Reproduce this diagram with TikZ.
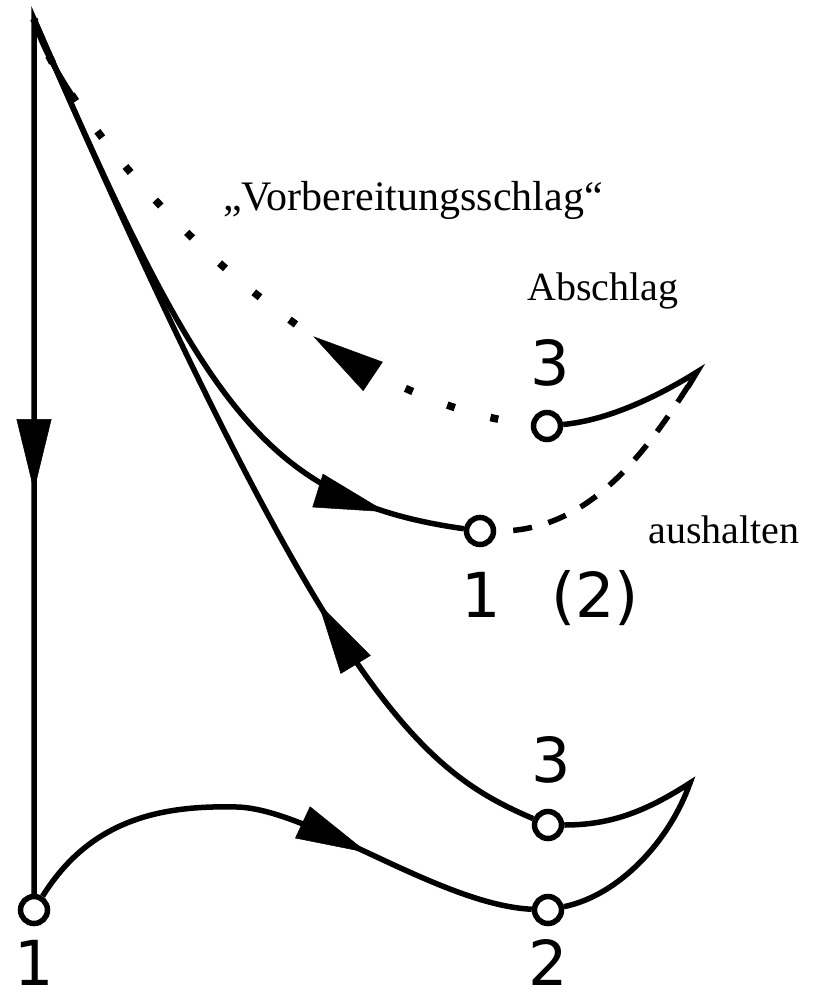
\documentclass[tikz,border=0pt]{standalone}
\usepackage{fontspec}
\setmainfont{Liberation Serif}
\newfontfamily\digitfont{DejaVu Sans}
\usetikzlibrary{arrows.meta,decorations.markings}
\tikzset{
  ln/.style={line width=5.5pt, line join=miter},
  pnt/.style={circle, draw, fill=white, line width=5.5pt, minimum size=27pt, inner sep=0pt},
  midarrow/.style={decorate, decoration={markings, mark=at position #1 with {\arrow[line width=0.5pt]{Triangle[length=72pt,width=35pt]}}}},
  lbl/.style={font=\fontsize{40}{40}\selectfont, inner sep=0pt, anchor=base},
  dig/.style={font=\digitfont\fontsize{62}{62}\selectfont, inner sep=0pt, anchor=base},
}
\begin{document}
\begin{tikzpicture}[x=1pt,y=-1pt]
\useasboundingbox (0,0) rectangle (813,999);
% points
\node[pnt] (c1low) at (34,910) {};
\node[pnt] (c2low) at (548,910) {};
\node[pnt] (c3low) at (548,825) {};
\node[pnt] (c1up) at (480,531) {};
\node[pnt] (c3up) at (547,426) {};
\coordinate (apex) at (34,19);
\coordinate (cusplow) at (690,783);
\coordinate (cuspup) at (697,372);
\coordinate (peak) at (237,807);
\coordinate (cuspupb) at (688,387);
% main solid path: lower 3 -> apex -> down to 1
\draw[ln] (c3low) .. controls (420,770) and (330,700) .. (apex) -- (c1low);
% 1 -> 2 -> cusp -> 3
\draw[ln] (c1low) .. controls (90,820) and (160,805) .. (peak) .. controls (310,809) and (440,905) .. (c2low);
\draw[ln] (c2low) .. controls (620,895) and (670,840) .. (cusplow) .. controls (645,812) and (610,825) .. (c3low);
% apex -> upper 1
\draw[ln] (apex) .. controls (200,400) and (260,500) .. (c1up);
% upper 1 dashed -> cusp, solid -> upper 3
\draw[ln, dash pattern=on 19pt off 17pt, dash phase=19pt] (c1up) .. controls (590,532) and (647,452) .. (cuspup);
\draw[ln] (cuspupb) -- (cuspup) .. controls (660,395) and (610,420) .. (c3up);
% dotted preparatory beat
\draw[line width=7.5pt, dash pattern=on 8pt off 37pt, dash phase=12pt] (c3up) .. controls (300,400) and (60,120) .. (apex);
\draw[ln, dash pattern=on 88pt off 3000pt] (apex) .. controls (60,120) and (300,400) .. (c3up);
% arrowheads
\path[midarrow=472pt] (apex) -- (c1low);
\path[midarrow=625pt] (apex) .. controls (200,400) and (260,500) .. (c1up);
\path[midarrow=310pt] (c3low) .. controls (420,770) and (330,700) .. (apex);
\path[midarrow=365pt] (c1low) .. controls (90,820) and (160,805) .. (peak) .. controls (310,809) and (440,905) .. (c2low);
\path[midarrow=237pt] (c3up) .. controls (300,400) and (60,120) .. (apex);
% labels
\node[lbl, font=\fontsize{42}{42}\selectfont] (tvor) at (413,210) {„Vorbereitungsschlag“};
\node[lbl] (tab) at (603,300) {Abschlag};
\node[lbl] (taus) at (724,543) {aushalten};
\node[dig] (n3up) at (550,385) {3};
\node[dig] (n1up) at (481,617) {1};
\node[dig] (n2up) at (595,617) {(2)};
\node[dig] (n3low) at (551,782) {3};
\node[dig] (n1low) at (34,985) {1};
\node[dig] (n2low) at (548,985) {2};
\end{tikzpicture}
\end{document}
